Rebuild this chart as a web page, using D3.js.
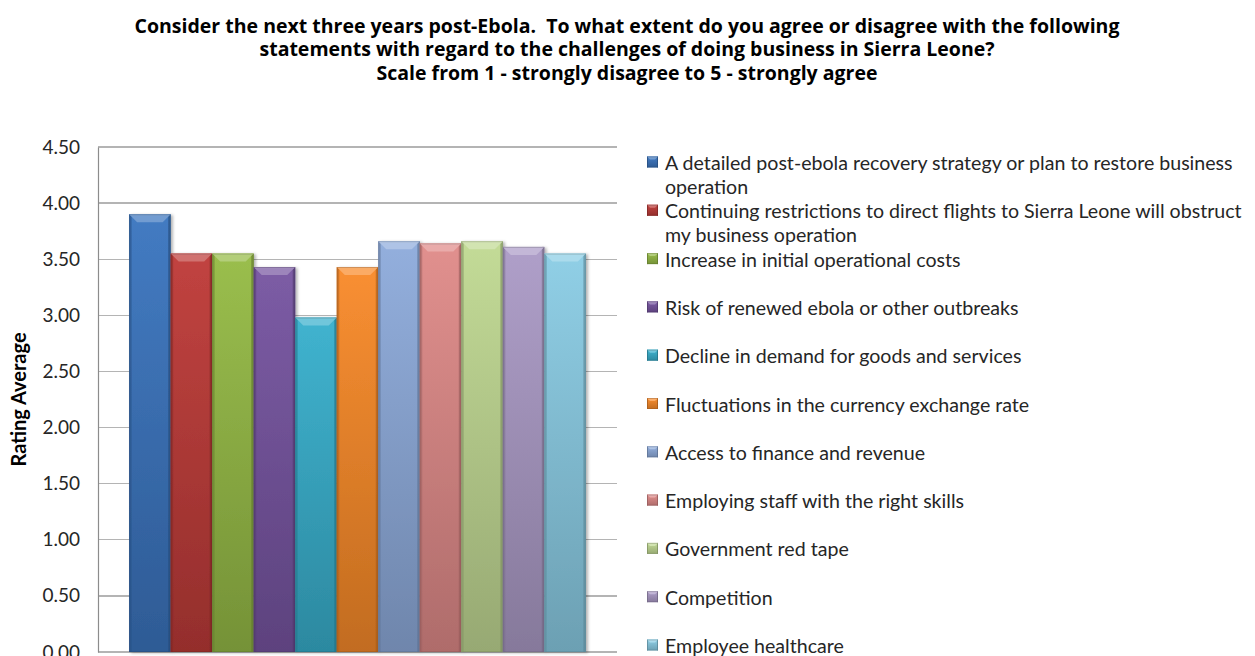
<!DOCTYPE html>
<html>
<head>
<meta charset="utf-8">
<script src="https://cdn.jsdelivr.net/npm/d3@7"></script>
<style>
  body { margin: 0; background: #fff; }
  svg { display: block; }
</style>
</head>
<body>
<svg id="chart" width="1255" height="656"></svg>
<script>
// ---- data ----
const titleLines = [
  "Consider the next three years post-Ebola.  To what extent do you agree or disagree with the following",
  "statements with regard to the challenges of doing business in Sierra Leone?",
  "Scale from 1 - strongly disagree to 5 - strongly agree"
];
const categories = [
  "A detailed post-ebola recovery strategy or plan to restore business operation",
  "Continuing restrictions to direct flights to Sierra Leone will obstruct my business operation",
  "Increase in initial operational costs",
  "Risk of renewed ebola or other outbreaks",
  "Decline in demand for goods and services",
  "Fluctuations in the currency exchange rate",
  "Access to finance and revenue",
  "Employing staff with the right skills",
  "Government red tape",
  "Competition",
  "Employee healthcare"
];
const ratings = [3.90, 3.55, 3.55, 3.43, 2.98, 3.43, 3.66, 3.64, 3.66, 3.61, 3.55];
const yTicks = [0, 0.5, 1, 1.5, 2, 2.5, 3, 3.5, 4, 4.5];
const yAxisTitle = "Rating Average";

// ---- styling ----
const palette = ["#3b75bf", "#be3b38", "#96bb46", "#7755a1", "#38b0cd", "#f98a29",
                 "#8eacdc", "#e08b89", "#c1d993", "#ac9bc7", "#8bcde5"];
const FONT = "Lato, 'Open Sans', sans-serif";
const TITLE_FONT = "'Open Sans', Lato, sans-serif";

const svg = d3.select("#chart");
const defs = svg.append("defs");

const plot = { left: 98, right: 617, top: 147, bottom: 652 };

const x = d3.scaleBand()
  .domain(categories)
  .range([plot.left, plot.right])
  .paddingInner(0)
  .paddingOuter(0.75);

const y = d3.scaleLinear()
  .domain([0, 4.5])
  .range([plot.bottom, plot.top]);

// soft shadow under the bars
const shadow = defs.append("filter").attr("id", "shadow")
  .attr("x", "-20%").attr("y", "-10%").attr("width", "140%").attr("height", "120%");
shadow.append("feDropShadow")
  .attr("dx", 2).attr("dy", 1).attr("stdDeviation", 1.6)
  .attr("flood-color", "#000").attr("flood-opacity", 0.3);

const shade = (c, t) => d3.interpolateRgb(c, "#000")(t);
const tint = (c, t) => d3.interpolateRgb(c, "#fff")(t);

// vertical gradient for each series colour
palette.forEach((c, i) => {
  const g = defs.append("linearGradient").attr("id", "grad" + i)
    .attr("x1", 0).attr("y1", 0).attr("x2", 0).attr("y2", 1);
  g.append("stop").attr("offset", "0%").attr("stop-color", tint(c, 0.04));
  g.append("stop").attr("offset", "100%").attr("stop-color", shade(c, 0.22));
});

// ---- title ----
svg.append("g").selectAll("text")
  .data(titleLines)
  .join("text")
  .attr("x", 627)
  .attr("y", (d, i) => 25 + i * 23.5)
  .attr("text-anchor", "middle")
  .attr("dominant-baseline", "central")
  .attr("font-family", TITLE_FONT)
  .attr("font-weight", "bold")
  .attr("font-size", 19.5)
  .attr("fill", "#000")
  .style("white-space", "pre")
  .text(d => d);

// ---- gridlines ----
svg.append("g")
  .selectAll("line")
  .data(yTicks)
  .join("line")
  .attr("x1", plot.left).attr("x2", plot.right)
  .attr("y1", d => y(d)).attr("y2", d => y(d))
  .attr("stroke", "#b4b4b4")
  .attr("stroke-width", 1.3)
  .attr("shape-rendering", "crispEdges");

// ---- y axis ----
const yAxis = svg.append("g")
  .attr("transform", `translate(${plot.left},0)`)
  .call(d3.axisLeft(y).tickValues(yTicks).tickFormat(d3.format(".2f")).tickSize(0).tickPadding(18));
yAxis.select(".domain").attr("stroke", "#8c8c8c").attr("stroke-width", 1.2);
yAxis.selectAll("text")
  .attr("font-family", FONT)
  .attr("font-size", 19)
  .attr("fill", "#262626");

svg.append("text")
  .attr("transform", `translate(18,${(plot.top + plot.bottom) / 2}) rotate(-90)`)
  .attr("text-anchor", "middle")
  .attr("dominant-baseline", "central")
  .attr("font-family", FONT)
  .attr("font-weight", "bold")
  .attr("font-size", 20)
  .attr("fill", "#000")
  .text(yAxisTitle);

// ---- bevelled bar ----
function bevelBox(g, x0, y0, w, h, i, b, side) {
  const c = palette[i];
  g.append("rect")
    .attr("x", x0).attr("y", y0).attr("width", w).attr("height", h)
    .attr("fill", `url(#grad${i})`);
  // darker side edges
  g.append("rect")
    .attr("x", x0).attr("y", y0).attr("width", side).attr("height", h)
    .attr("fill", shade(c, 0.3)).attr("opacity", 0.55);
  g.append("rect")
    .attr("x", x0 + w - side).attr("y", y0).attr("width", side).attr("height", h)
    .attr("fill", shade(c, 0.35)).attr("opacity", 0.6);
  // light top bevel
  g.append("polygon")
    .attr("points", [[x0, y0], [x0 + w, y0], [x0 + w - b, y0 + b], [x0 + b, y0 + b]].map(p => p.join(",")).join(" "))
    .attr("fill", tint(c, 0.28));
  g.append("line")
    .attr("x1", x0 + 1).attr("x2", x0 + w - 1).attr("y1", y0 + 0.6).attr("y2", y0 + 0.6)
    .attr("stroke", tint(c, 0.45)).attr("stroke-width", 1.2);
  // thin outline
  g.append("rect")
    .attr("x", x0 + 0.5).attr("y", y0 + 0.5).attr("width", w - 1).attr("height", Math.max(0, h - 1))
    .attr("fill", "none").attr("stroke", shade(c, 0.35)).attr("stroke-opacity", 0.5).attr("stroke-width", 1);
}

const bars = svg.append("g").attr("class", "bars");
categories.forEach((cat, i) => {
  const g = bars.append("g").attr("filter", "url(#shadow)");
  bevelBox(g, x(cat), y(ratings[i]), x.bandwidth(), y(0) - y(ratings[i]), i, 8, 2.5);
});

// ---- legend ----
const legend = svg.append("g").attr("class", "legend");
const legendX = 647, legendY = 162, legendStep = 48.3, lineH = 24, maxW = 585;

categories.forEach((cat, i) => {
  const cy = legendY + i * legendStep;
  const mg = legend.append("g");
  bevelBox(mg, legendX, cy - 5.5, 11, 11, i, 3, 1);

  const t = legend.append("text")
    .attr("x", legendX + 18)
    .attr("y", cy)
    .attr("dominant-baseline", "central")
    .attr("font-family", FONT)
    .attr("font-size", 19.6)
    .attr("fill", "#262626");

  // wrap long entries onto a second line
  const words = cat.split(" ");
  let line = [];
  let lineNo = 0;
  let tspan = t.append("tspan").attr("x", legendX + 18).attr("y", cy);
  words.forEach(w => {
    line.push(w);
    tspan.text(line.join(" "));
    if (tspan.node().getComputedTextLength() > maxW && line.length > 1) {
      line.pop();
      tspan.text(line.join(" "));
      line = [w];
      lineNo += 1;
      tspan = t.append("tspan").attr("x", legendX + 18).attr("y", cy + lineNo * lineH).text(w);
    }
  });
});
</script>
</body>
</html>
